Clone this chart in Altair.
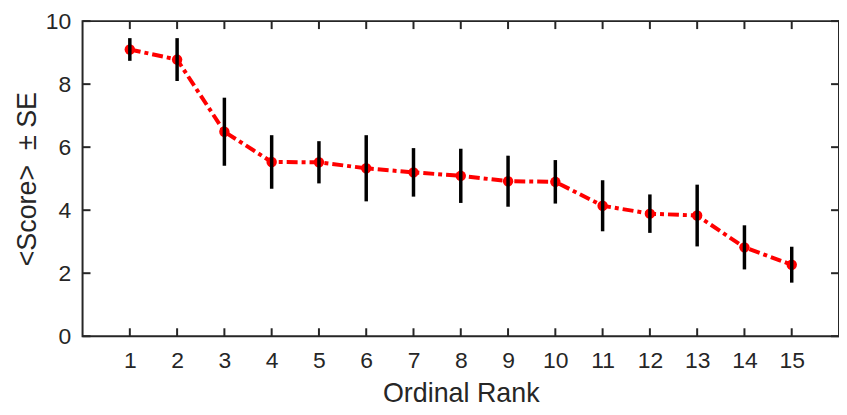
import altair as alt
import pandas as pd

ranks = list(range(1, 16))
means = [9.10, 8.78, 6.49, 5.53, 5.52, 5.33, 5.20, 5.09, 4.92, 4.90, 4.14, 3.89, 3.83, 2.82, 2.27]
ses = [0.36, 0.68, 1.08, 0.85, 0.67, 1.05, 0.77, 0.86, 0.81, 0.69, 0.81, 0.61, 0.98, 0.70, 0.57]
x_ticks = list(range(1, 16))
y_ticks = [0, 2, 4, 6, 8, 10]

W, H = 761, 317
AX = "#262626"
FONT = "Liberation Sans"

df = pd.DataFrame({"rank": ranks, "score": means, "se": ses})
df["lo"] = df["score"] - df["se"]
df["hi"] = df["score"] + df["se"]
xt = pd.DataFrame({"rank": x_ticks})
yt = pd.DataFrame({"score": y_ticks})

xscale = alt.Scale(domain=[0, 16], nice=False, zero=False)
yscale = alt.Scale(domain=[0, 10], nice=False)

xaxis = alt.Axis(values=x_ticks, title="Ordinal Rank", labelPadding=13, titlePadding=9)
yaxis = alt.Axis(values=y_ticks, title="<Score>\u00a0\u00a0±\u00a0SE", labelPadding=12, titlePadding=4)

base = alt.Chart(df)

line = base.mark_line(color="#ff0000", strokeWidth=4, strokeDash=[11, 4, 4, 4]).encode(
    x=alt.X("rank:Q", scale=xscale, axis=xaxis),
    y=alt.Y("score:Q", scale=yscale, axis=yaxis),
)
points = base.mark_circle(size=110, color="#ff0000", opacity=1).encode(
    x=alt.X("rank:Q", scale=xscale, axis=xaxis),
    y=alt.Y("score:Q", scale=yscale, axis=yaxis),
)
bars = base.mark_rule(color="#000000", strokeWidth=3.5).encode(
    x=alt.X("rank:Q", scale=xscale, axis=xaxis),
    y=alt.Y("lo:Q", scale=yscale, axis=yaxis),
    y2="hi:Q",
)

tick_style = dict(color=AX, strokeWidth=2)
bt = alt.Chart(xt).mark_rule(**tick_style).encode(
    x=alt.X("rank:Q", scale=xscale, axis=xaxis), y=alt.value(H), y2=alt.value(H - 8))
tt = alt.Chart(xt).mark_rule(**tick_style).encode(
    x=alt.X("rank:Q", scale=xscale, axis=xaxis), y=alt.value(0), y2=alt.value(8))
lt = alt.Chart(yt).mark_rule(**tick_style).encode(
    y=alt.Y("score:Q", scale=yscale, axis=yaxis), x=alt.value(0), x2=alt.value(8))
rt = alt.Chart(yt).mark_rule(**tick_style).encode(
    y=alt.Y("score:Q", scale=yscale, axis=yaxis), x=alt.value(W), x2=alt.value(W - 8))

chart = alt.layer(bt, tt, lt, rt, line, points, bars).properties(
    width=W, height=H,
    autosize=alt.AutoSizeParams(type="none"),
    padding={"left": 75, "top": 12, "right": 0, "bottom": 70},
).configure(
    background="white"
).configure_view(
    stroke=AX, strokeWidth=2
).configure_axis(
    grid=False, domain=False, ticks=False,
    labelFont=FONT, labelFontSize=23, labelColor=AX,
    titleFont=FONT, titleFontSize=27, titleFontWeight="normal", titleColor=AX,
)

chart.save("out.html", embed_options={"renderer": "svg", "actions": False})
